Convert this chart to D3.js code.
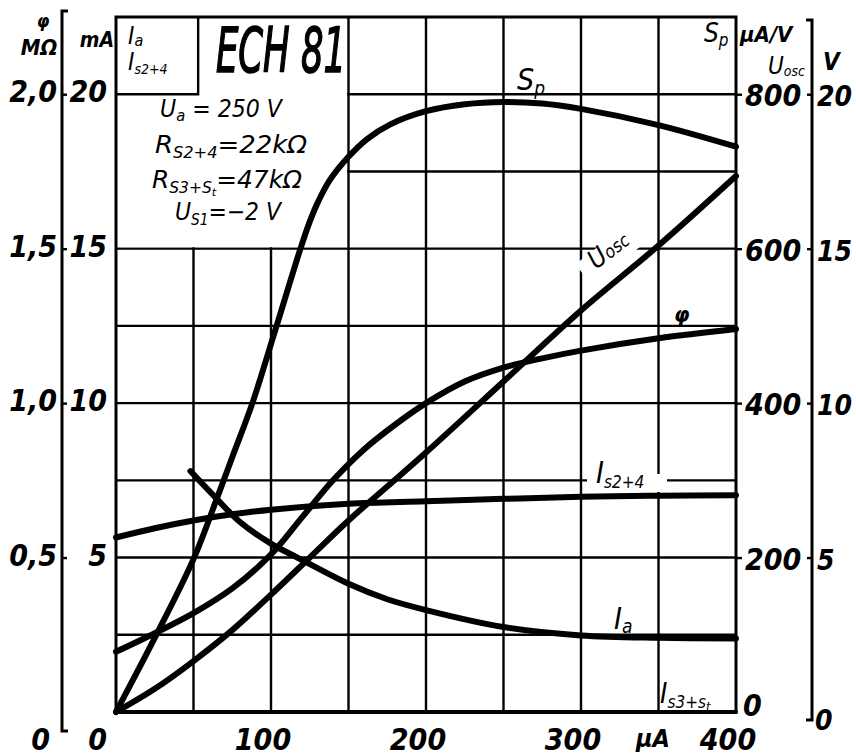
<!DOCTYPE html>
<html>
<head>
<meta charset="utf-8">
<script src="https://cdn.jsdelivr.net/npm/d3@7"></script>
<style>
  body { margin: 0; background: #fff; }
  svg text { font-family: "Liberation Sans Narrow", "DejaVu Sans Condensed", "Liberation Sans", sans-serif; font-style: italic; fill: #000; }
</style>
</head>
<body>
<svg id="chart" width="856" height="756"></svg>
<script>
/* ═══ ECH 81 — mixer characteristics vs. oscillator grid current ═══ */

// x: oscillator grid current I_g1 in µA
const xTicks   = [0, 100, 200, 300, 400];
const xGrid    = [50, 100, 150, 200, 250, 300, 350];
const yGrid    = [2.5, 5, 7.5, 10, 12.5, 15, 17.5, 20];   // mA
const maTicks  = [0, 5, 10, 15, 20];                        // mA
const phiTicks = [0, 0.5, 1.0, 1.5, 2.0];                   // MΩ
const spTicks  = [0, 200, 400, 600, 800];                   // µA/V
const vTicks   = [0, 5, 10, 15, 20];                        // V

// curves as [µA, value]
const spCurve   = [[0,0],[25,96],[50,198],[65,276],[75,330],[88,400],[103,496],[119,600],[125,635],[130,659],
                   [138,689],[150,719],[162,742],[177,761],[200,778],[225,787],[250,790],[275,788],[300,781],
                   [350,760],[400,732]];
const uoscCurve = [[0,0],[25,0.75],[50,1.65],[75,2.65],[100,3.8],[125,5.0],[150,6.2],[175,7.3],[200,8.4],
                   [250,10.7],[300,13.0],[350,15.1],[400,17.35]];
const phiCurve  = [[0,0.195],[25,0.255],[50,0.32],[75,0.40],[100,0.51],[120,0.63],[140,0.75],[160,0.85],
                   [180,0.93],[200,1.0],[225,1.07],[250,1.115],[275,1.145],[300,1.17],[350,1.21],[400,1.24]];
const iaCurve   = [[48,7.8],[65,6.9],[80,6.15],[100,5.45],[117,5.0],[150,4.15],[175,3.65],[200,3.3],
                   [250,2.75],[300,2.48],[350,2.4],[400,2.38]];
const is24Curve = [[0,5.65],[25,5.95],[50,6.2],[75,6.4],[100,6.55],[150,6.74],[200,6.82],[250,6.9],
                   [300,6.97],[350,7.0],[400,7.02]];
const is3Curve  = [[0,0],[400,0]];

const svg = d3.select('#chart');
svg.append('rect').attr('width', 856).attr('height', 756).attr('fill', '#fff');

const x    = d3.scaleLinear().domain([0, 400]).range([116, 736]);
const yA   = d3.scaleLinear().domain([0, 22.5]).range([712, 17]);
const ySp  = d3.scaleLinear().domain([0, 900]).range([712, 17]);
const yV   = d3.scaleLinear().domain([0, 22.5]).range([712, 17]);
const yPhi = d3.scaleLinear().domain([0, 2.25]).range([712, 17]);

// ── Grid ──
const grid = svg.append('g').attr('stroke', '#000').attr('stroke-width', 2.4);
grid.selectAll('.v').data(xGrid).join('line').attr('class', 'v')
  .attr('x1', d => x(d)).attr('x2', d => x(d)).attr('y1', yA(0)).attr('y2', yA(22.5));
grid.selectAll('.h').data(yGrid).join('line').attr('class', 'h')
  .attr('x1', x(0)).attr('x2', x(400)).attr('y1', d => yA(d)).attr('y2', d => yA(d));

// blank area for title + parameters
svg.append('rect')
  .attr('x', x(0) + 1).attr('y', yA(22.5) + 1)
  .attr('width', x(150) - x(0) - 2.5).attr('height', yA(15) - yA(22.5) - 2.5)
  .attr('fill', '#fff');
// small box for I_a / I_s2+4
svg.append('path')
  .attr('d', `M${x(53)},${yA(22.5)} V${yA(20)} H${x(0)}`)
  .attr('fill', 'none').attr('stroke', '#000').attr('stroke-width', 2.4);

// label cut-outs in the grid
svg.append('rect').attr('x', 587).attr('y', 474).attr('width', 80).attr('height', 18).attr('fill', '#fff');
svg.append('rect').attr('x', -38).attr('y', -14).attr('width', 76).attr('height', 26).attr('fill', '#fff')
  .attr('transform', 'translate(614,252) rotate(-38)');

// ── Frame ──
svg.append('rect')
  .attr('x', x(0)).attr('y', yA(22.5))
  .attr('width', x(400) - x(0)).attr('height', yA(0) - yA(22.5))
  .attr('fill', 'none').attr('stroke', '#000').attr('stroke-width', 3);

// ── Axes ──
const tickStyle = g => { g.select('.domain').remove(); g.selectAll('.tick line').attr('stroke', '#000').attr('stroke-width', 2.4); g.selectAll('.tick text').remove(); };

// left φ axis
svg.append('g').attr('transform', 'translate(62,0)')
  .call(d3.axisRight(yPhi).tickValues(phiTicks.slice(1)).tickSize(5)).call(tickStyle);
svg.append('path').attr('d', 'M68,11 H62 V731 H68')
  .attr('fill', 'none').attr('stroke', '#000').attr('stroke-width', 3);
// right Sp axis ticks
svg.append('g').attr('transform', `translate(${x(400)},0)`)
  .call(d3.axisRight(ySp).tickValues(spTicks.slice(1)).tickSize(6)).call(tickStyle);
// right V axis
svg.append('g').attr('transform', 'translate(812,0)')
  .call(d3.axisLeft(yV).tickValues(vTicks.slice(1)).tickSize(5)).call(tickStyle);
svg.append('path').attr('d', 'M806,20 H812 V720 H806')
  .attr('fill', 'none').attr('stroke', '#000').attr('stroke-width', 3);

const FS = 30;
const lab = svg.append('g').attr('font-size', FS).attr('font-weight', 'bold');
lab.selectAll('.phil').data(phiTicks).join('text')
  .attr('text-anchor', 'end')
  .attr('x', d => d === 0 ? 50 : 57)
  .attr('y', d => d === 0 ? 750 : yPhi(d) + 8)
  .text(d => d === 0 ? '0' : d3.format('.1f')(d).replace('.', ','));
lab.selectAll('.mal').data(maTicks).join('text')
  .attr('text-anchor', 'end')
  .attr('x', 107)
  .attr('y', d => d === 0 ? 750 : yA(d) + 8)
  .text(d => d);
lab.selectAll('.spl').data(spTicks).join('text')
  .attr('x', d => d === 0 ? 743 : 745)
  .attr('y', d => d === 0 ? 716 : ySp(d) + 12)
  .text(d => d);
lab.selectAll('.vl').data(vTicks).join('text')
  .attr('font-size', 28)
  .attr('x', d => d === 0 ? 815 : 817)
  .attr('y', d => d === 0 ? 730 : yV(d) + 12)
  .text(d => d);
lab.selectAll('.xl').data(xTicks.slice(1)).join('text')
  .attr('text-anchor', 'middle')
  .attr('x', d => x(d) - 8).attr('y', 750)
  .text(d => d);
lab.append('text').attr('x', 636).attr('y', 747).attr('font-size', 25).text('µA');

// axis units
const unit = (xp, yp, size, parts, anchor) => {
  const t = svg.append('text').attr('x', xp).attr('y', yp).attr('font-size', size).attr('font-weight', 'bold')
    .attr('text-anchor', anchor || 'start');
  parts.forEach(p => t.append('tspan').attr('font-size', p[1] || size).attr('dy', p[2] || 0).text(p[0]));
  return t;
};
unit(43, 27, 18, [['φ']], 'middle');
unit(39, 55, 22, [['MΩ']], 'middle');
unit(97, 47, 21, [['mA']], 'middle');
unit(128, 44, 24, [['I'], ['a', 16, 2]]).attr('font-weight', 'normal');
unit(128, 70, 24, [['I'], ['s2+4', 14, 4]]).attr('font-weight', 'normal');
unit(704, 42, 26, [['S'], ['p', 17, 4]]).attr('font-weight', 'normal');
unit(740, 42, 22, [['µA/V']]);
unit(768, 74, 24, [['U'], ['osc', 14, 2]]).attr('font-weight', 'normal');
unit(823, 70, 24, [['V']]);

// title and operating conditions
svg.append('text').attr('x', 216).attr('y', 72).attr('font-size', 62)
  .attr('stroke', '#000').attr('stroke-width', 1.6)
  .attr('textLength', 130).attr('lengthAdjust', 'spacingAndGlyphs').text('ECH 81');
const par = (xp, yp, len, parts) => {
  const t = svg.append('text').attr('x', xp).attr('y', yp).attr('font-size', 24)
    .attr('textLength', len).attr('lengthAdjust', 'spacingAndGlyphs');
  parts.forEach(p => t.append('tspan').attr('font-size', p[1] || 24).attr('dy', p[2] || 0).text(p[0]));
};
par(160, 117, 122, [['U'], ['a', 16, 4], [' = 250 V', 24, -4]]);
par(155, 153, 152, [['R'], ['S2+4', 15, 5], ['=22kΩ', 24, -5]]);
par(152, 188, 150, [['R'], ['S3+S', 15, 5], ['t', 11, 3], ['=47kΩ', 24, -8]]);
par(175, 220, 106, [['U'], ['S1', 15, 5], ['=−2 V', 24, -5]]);

// ── Curves ──
const curves = svg.append('g').attr('fill', 'none').attr('stroke', '#000')
  .attr('stroke-width', 6).attr('stroke-linejoin', 'round').attr('stroke-linecap', 'round');
const mk = ys => d3.line().x(d => x(d[0])).y(d => ys(d[1])).curve(d3.curveCatmullRom.alpha(0.5));
curves.append('path').attr('d', mk(ySp)(spCurve));
curves.append('path').attr('d', mk(yV)(uoscCurve));
curves.append('path').attr('d', mk(yPhi)(phiCurve));
curves.append('path').attr('d', mk(yA)(iaCurve));
curves.append('path').attr('d', mk(yA)(is24Curve));
curves.append('path').attr('d', mk(yA)(is3Curve)).attr('stroke-width', 4);

// curve labels
unit(517, 90, 30, [['S'], ['p', 19, 5]]).attr('font-weight', 'normal');
unit(0, 0, 26, [['U'], ['osc', 18, 0]]).attr('font-weight', 'normal')
  .attr('transform', 'translate(596,270) rotate(-38)');
unit(674, 322, 22, [['φ']]).attr('font-weight', 'bold');
unit(596, 483, 30, [['I'], ['s2+4', 17, 5]]).attr('font-weight', 'normal');
unit(614, 629, 30, [['I'], ['a', 19, 4]]).attr('font-weight', 'normal');
unit(660, 703, 28, [['I'], ['s3+s', 17, 5], ['t', 13, 3]]).attr('font-weight', 'normal');
</script>
</body>
</html>
